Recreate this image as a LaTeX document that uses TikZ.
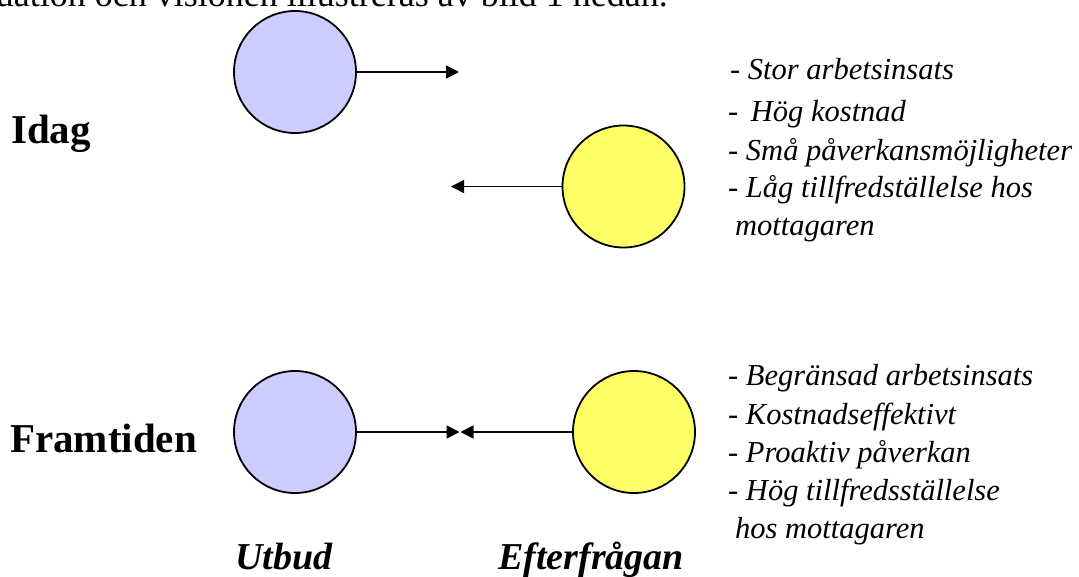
\documentclass[tikz,border=0pt]{standalone}
\usepackage{fontspec}
\setmainfont{Liberation Serif}
\usetikzlibrary{arrows.meta}
\definecolor{supblue}{HTML}{CCCCFF}
\definecolor{demyellow}{HTML}{FFFF66}
\begin{document}
\begin{tikzpicture}[x=1pt,y=-1pt,
  ball/.style={circle,draw=black,line width=1.8pt,minimum size=122pt,inner sep=0pt},
  conn/.style={line width=1.6pt,-{Triangle[length=13pt,width=13pt]}},
  heading/.style={anchor=base west,inner sep=0pt,font=\fontsize{41}{48}\selectfont\bfseries},
  axislabel/.style={anchor=base west,inner sep=0pt,font=\fontsize{38}{46}\selectfont\bfseries\itshape},
  listline/.style={anchor=base west,inner sep=0pt,font=\fontsize{30.5}{36}\selectfont\itshape},
  bodytext/.style={anchor=base east,inner sep=0pt,font=\fontsize{36}{42}\selectfont}]
\useasboundingbox (0,0) rectangle (1079,576);
\begin{scope}
\clip (0,0) rectangle (1079,576);
\node[bodytext] (intro) at (668,6.5) {uation och visionen illustreras av bild 1 nedan.};
\end{scope}
% circles
\node[ball,fill=supblue] (s1) at (295,72) {};
\node[ball,fill=demyellow] (d1) at (623.5,186.5) {};
\node[ball,fill=supblue] (s2) at (295,432) {};
\node[ball,fill=demyellow] (d2) at (634,432) {};
% arrow ends
\coordinate (e1) at (459,72);
\coordinate (e2) at (451,186.5);
\coordinate (e3) at (459.5,432);
\coordinate (e4) at (460.5,432);
\draw[conn] (s1.east) -- (e1);
\draw[conn] (d1.west) -- (e2);
\draw[conn] (s2.east) -- (e3);
\draw[conn] (d2.west) -- (e4);
% headings
\node[heading] (idag) at (11,143) {Idag};
\node[heading] (fram) at (10,452) {Framtiden};
\node[axislabel] (utbud) at (235,569) {Utbud};
\node[axislabel] (eft) at (498,569) {Efterfrågan};
% top list
\node[listline] (t1) at (730,79) {- Stor arbetsinsats};
\node[listline] (t2) at (728,121) {-\hspace{5pt} Hög kostnad};
\node[listline] (t3) at (728,160) {- Små påverkansmöjligheter};
\node[listline] (t4) at (728,197) {- Låg tillfredställelse hos};
\node[listline] (t5) at (735,235) {mottagaren};
% bottom list
\node[listline] (b1) at (728,385) {- Begränsad arbetsinsats};
\node[listline] (b2) at (728,424) {- Kostnadseffektivt};
\node[listline] (b3) at (728,462) {- Proaktiv påverkan};
\node[listline] (b4) at (728,500) {- Hög tillfredsställelse};
\node[listline] (b5) at (735,538) {hos mottagaren};
\end{tikzpicture}
\end{document}
